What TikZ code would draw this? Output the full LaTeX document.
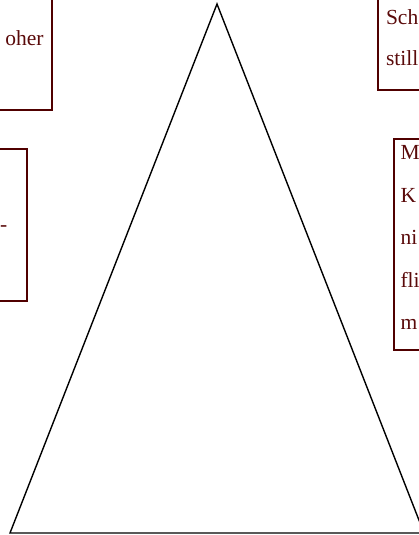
\documentclass[tikz,border=0pt]{standalone}
\usepackage{fontspec}
\setmainfont{Liberation Serif}
\definecolor{boxline}{RGB}{80,0,0}
\definecolor{boxtext}{RGB}{90,10,10}
\begin{document}
\begin{tikzpicture}[x=1pt,y=-1pt,
  frame/.style={draw=boxline,line width=2pt},
  txt/.style={inner sep=0pt,outer sep=0pt,text=boxtext,font=\fontsize{21.5}{43}\selectfont},
  tri/.style={draw=black,line width=1.4pt}]
\useasboundingbox (0,0) rectangle (419,535);
% triangle
\coordinate (apex) at (217,4);
\coordinate (bl) at (10,533);
\coordinate (br) at (424,533);
\draw[tri] (apex) -- (bl) -- (br) -- cycle;
% left boxes
\draw[frame] (-10,-10) rectangle (52,110);
\node[txt,anchor=base east] (t1) at (43.5,46) {oher};
\draw[frame] (-10,149) rectangle (27,301);
\node[txt,anchor=base west] (t2) at (0,231) {-};
% right boxes
\draw[frame] (378,-10) rectangle (430,90);
\node[txt,anchor=base west] (t3) at (386,25) {Sch};
\node[txt,anchor=base west] (t4) at (386,66) {still};
\draw[frame] (394,139) rectangle (430,350);
\node[txt,anchor=base west] (t5) at (400.5,159) {M};
\node[txt,anchor=base west] (t6) at (400.5,202) {K};
\node[txt,anchor=base west] (t7) at (400.5,244) {ni};
\node[txt,anchor=base west] (t8) at (400.5,287) {fli};
\node[txt,anchor=base west] (t9) at (400.5,329) {m};
\end{tikzpicture}
\end{document}
